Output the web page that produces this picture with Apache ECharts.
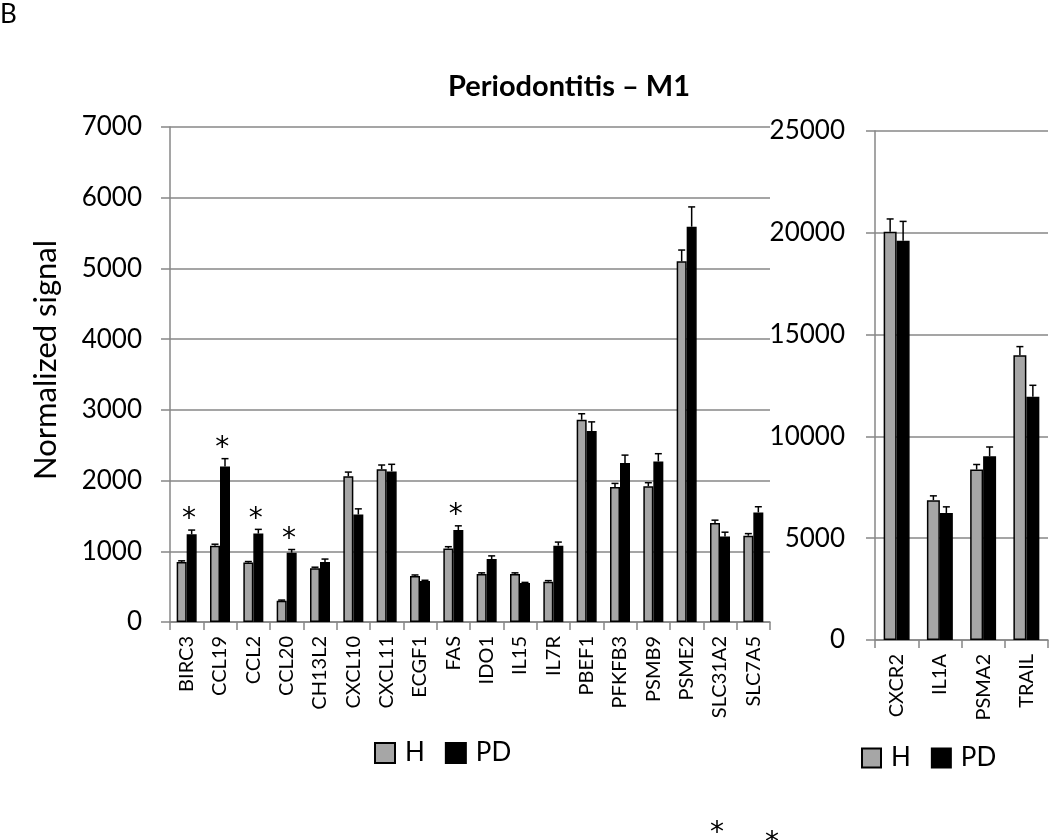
<!DOCTYPE html>
<html><head><meta charset="utf-8">
<script src="https://cdn.jsdelivr.net/npm/echarts@6/dist/echarts.min.js"></script>
<style>html,body{margin:0;padding:0;background:#fff}#c{width:1050px;height:840px}</style>
</head><body><div id="c"></div>
<script>
// ---- data (left panel) ----
const genes1 = ['BIRC3','CCL19','CCL2','CCL20','CH13L2','CXCL10','CXCL11','ECGF1','FAS','IDO1','IL15','IL7R','PBEF1','PFKFB3','PSMB9','PSME2','SLC31A2','SLC7A5'];
const H1     = [850, 1080, 840, 300, 760, 2060, 2160, 650, 1040, 680, 680, 570, 2860, 1910, 1920, 5100, 1400, 1220];
const H1err  = [15, 20, 15, 10, 15, 60, 60, 15, 25, 15, 15, 15, 85, 50, 50, 160, 40, 30];
const PD1    = [1240, 2200, 1250, 980, 850, 1520, 2130, 580, 1300, 890, 550, 1080, 2700, 2250, 2270, 5590, 1210, 1550];
const PD1err = [60, 110, 60, 45, 40, 80, 100, 10, 60, 45, 10, 50, 130, 110, 110, 280, 60, 80];
const sig1   = [1,1,1,1,0,0,0,0,1,0,0,0,0,0,0,0,0,0];
const yTicks1 = [0,1000,2000,3000,4000,5000,6000,7000];
// ---- data (right panel) ----
const genes2 = ['CXCR2','IL1A','PSMA2','TRAIL'];
const H2     = [20050, 6870, 8370, 13990];
const H2err  = [630, 210, 250, 420];
const PD2    = [19610, 6240, 9020, 11950];
const PD2err = [950, 300, 460, 560];
const yTicks2 = [0,5000,10000,15000,20000,25000];

const FONT = 'Lato';
const GRAY = '#a6a6a6';
const AX = '#878787';

function errSeries(name, vals, errs, side, xi, yi){
  return {
    type:'custom', name: name+'_err', xAxisIndex:xi, yAxisIndex:yi, silent:true, z:5,
    data: vals.map((v,i)=>[i, v, v+errs[i]]),
    renderItem: function(params, api){
      const i = api.value(0);
      const bw = api.size([1,0])[0];
      const cx = api.coord([i, 0])[0] + side*0.15*bw;
      const y0 = api.coord([i, api.value(1)])[1];
      const y1 = api.coord([i, api.value(2)])[1];
      const cap = 3.5;
      return {type:'group', children:[
        {type:'line', shape:{x1:cx,y1:y0,x2:cx,y2:y1}, style:{stroke:'#000',lineWidth:1.5}},
        {type:'line', shape:{x1:cx-cap,y1:y1,x2:cx+cap,y2:y1}, style:{stroke:'#000',lineWidth:1.5}}
      ]};
    }
  };
}

const sigData = [];
sig1.forEach((s,i)=>{ if(s) sigData.push([i, PD1[i]+PD1err[i]]); });

function xAxisCfg(cats, gi){
  return {type:'category', gridIndex:gi, data:cats,
    axisLine:{lineStyle:{color:AX,width:1.5}},
    axisTick:{show:true,length:8,lineStyle:{color:AX,width:1.5}},
    axisLabel:{rotate:90, margin:14, color:'#000', fontFamily:FONT, fontSize:20, interval:0}};
}
function yAxisCfg(ticks, gi, margin){
  return {type:'value', gridIndex:gi, min:ticks[0], max:ticks[ticks.length-1], interval:ticks[1]-ticks[0],
    axisLine:{show:true,lineStyle:{color:AX,width:1.5}},
    axisTick:{show:true,length:9,lineStyle:{color:AX,width:1.5}},
    splitLine:{show:true,lineStyle:{color:AX,width:1.5}},
    axisLabel:{margin:margin, color:'#000', fontFamily:FONT, fontSize:26, formatter:(v)=>String(v)}};
}
function barSeries(name, vals, xi, yi, color){
  return {type:'bar', name:name, xAxisIndex:xi, yAxisIndex:yi, data:vals,
    barWidth:'30%', barGap:'0%',
    itemStyle:{color:color, borderColor:'#000', borderWidth:1.5}};
}

const chart = echarts.init(document.getElementById('c'), null, {renderer:'canvas'});
chart.setOption({
  animation:false,
  backgroundColor:'#fff',
  grid:[
    {left:170, top:127, width:600, height:495},
    {left:875, top:131, width:173, height:509}
  ],
  xAxis:[xAxisCfg(genes1,0), xAxisCfg(genes2,1)],
  yAxis:[yAxisCfg(yTicks1,0,28), yAxisCfg(yTicks2,1,30)],
  legend:[
    {data:['H','PD'], left:369, top:735, itemWidth:20, itemHeight:20, itemGap:20, icon:'rect',
     textStyle:{fontFamily:FONT, fontSize:26, color:'#000', padding:[0,0,0,5]}},
    {data:['H','PD'], left:856, top:740, itemWidth:19, itemHeight:19, itemGap:20, icon:'rect',
     textStyle:{fontFamily:FONT, fontSize:26, color:'#000', padding:[0,0,0,5]}}
  ],
  series:[
    barSeries('H', H1, 0, 0, GRAY),
    barSeries('PD', PD1, 0, 0, '#000'),
    errSeries('H', H1, H1err, -1, 0, 0),
    errSeries('PD', PD1, PD1err, 1, 0, 0),
    {type:'custom', name:'sig', xAxisIndex:0, yAxisIndex:0, silent:true, z:6, data:sigData,
      renderItem:function(params, api){
        const p = api.coord([api.value(0), api.value(1)]);
        const bw = api.size([1,0])[0];
        return {type:'text', style:{text:'*', x:p[0]+0.07*bw, y:p[1]+4, align:'center', verticalAlign:'bottom',
          font:'28px "DejaVu Sans"', fill:'#000'}};
      }},
    barSeries('H', H2, 1, 1, GRAY),
    barSeries('PD', PD2, 1, 1, '#000'),
    errSeries('H', H2, H2err, -1, 1, 1),
    errSeries('PD', PD2, PD2err, 1, 1, 1)
  ],
  graphic:[
    {type:'text', left:0, top:2, style:{text:'B', font:'26px '+FONT, fill:'#000'}},
    {type:'text', x:569, y:87, style:{text:'Periodontitis \u2013 M1', font:'bold 29px '+FONT, fill:'#000', align:'center', verticalAlign:'middle'}},
    {type:'text', x:46, y:360, rotation:Math.PI/2, style:{text:'Normalized signal', font:'31px '+FONT, fill:'#000', align:'center', verticalAlign:'middle'}},
    {type:'text', x:717, y:848, style:{text:'*', font:'28px "DejaVu Sans"', fill:'#000', align:'center', verticalAlign:'bottom'}},
    {type:'text', x:772, y:858, style:{text:'*', font:'28px "DejaVu Sans"', fill:'#000', align:'center', verticalAlign:'bottom'}}
  ]
});
</script></body></html>
